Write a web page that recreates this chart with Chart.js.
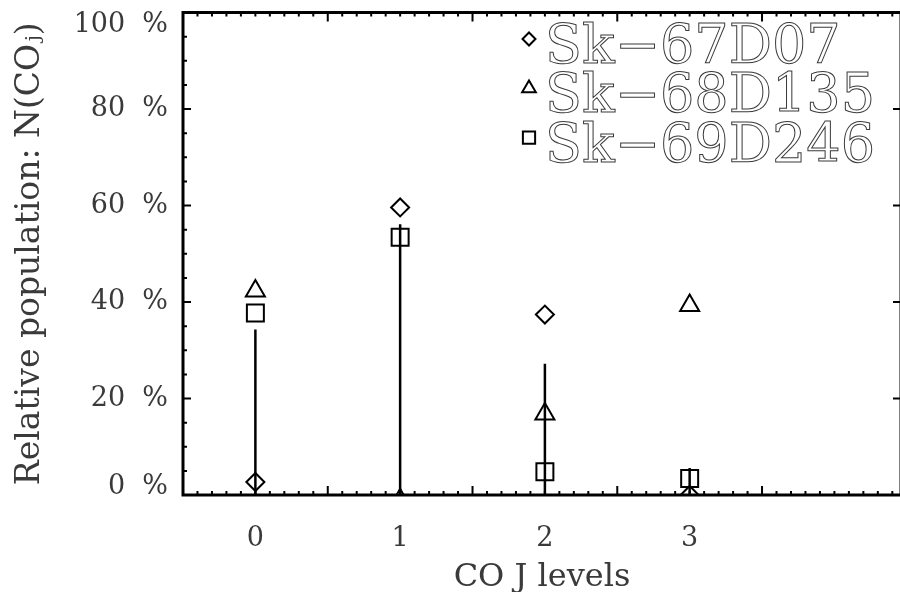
<!DOCTYPE html>
<html>
<head>
<meta charset="utf-8">
<script src="https://cdn.jsdelivr.net/npm/chart.js"></script>
<style>
    html, body { margin: 0; padding: 0; background: #fff; overflow: hidden; }
    #wrap { width: 904px; height: 592px; }
</style>
</head>
<body>
<div id="wrap"><canvas id="chart" width="904" height="592"></canvas></div>
<script>
// CO J levels and relative populations (%)
const levels = [0, 1, 2, 3];
const xLabels = ["0", "1", "2", "3"];
const sk67d07 = [2.7, 59.6, 37.4, 0];
const sk68d135 = [42.3, -1, 16.8, 39.3];
const sk69d246 = [37.7, 53.4, 4.8, 3.4];
// vertical bars drawn at each level
const barLow = [0, 0, 0, 0];
const barHigh = [34.3, 56.1, 27.2, 5.6];
const yTicks = [0, 20, 40, 60, 80, 100];
const seriesNames = ["Sk\u221267D07", "Sk\u221268D135", "Sk\u221269D246"];

const FONT = "'DejaVu Serif', serif";
const ink = "#000";
const textInk = "#3a3a3a";

const toPoints = vals => levels.map((x, i) => ({x: x, y: vals[i]}));

const markerSets = [
    {label: seriesNames[0], data: toPoints(sk67d07), pointStyle: "rectRot", pointRadius: 9},
    {label: seriesNames[1], data: toPoints(sk68d135), pointStyle: "triangle", pointRadius: 11},
    {label: seriesNames[2], data: toPoints(sk69d246), pointStyle: "rect", pointRadius: 12}
].map(d => Object.assign(d, {
    showLine: false,
    borderColor: ink,
    backgroundColor: "rgba(0,0,0,0)",
    pointBorderWidth: 2,
    pointHoverRadius: d.pointRadius,
    clip: 0
}));

const barSets = levels.map((x, i) => ({
    data: [{x: x, y: barLow[i]}, {x: x, y: barHigh[i]}],
    showLine: true,
    borderColor: ink,
    borderWidth: 2.5,
    pointRadius: 0,
    clip: 0
}));

// IDL style box: inward ticks on all four sides
const idlFrame = {
    id: "idlFrame",
    afterDatasetsDraw(chart) {
        const {ctx, chartArea: a, scales: {x, y}} = chart;
        ctx.save();
        ctx.strokeStyle = ink;
        ctx.lineWidth = 2;
        ctx.beginPath();
        for (let k = 0; ; k++) {
            const v = -0.5 + k * 0.1;
            if (v > x.max + 1e-9) break;
            const px = x.getPixelForValue(v);
            const len = k % 10 === 0 ? 9 : 4;
            ctx.moveTo(px, a.bottom);
            ctx.lineTo(px, a.bottom - len);
            ctx.moveTo(px, a.top);
            ctx.lineTo(px, a.top + len);
        }
        for (let v = 0; v <= 100; v += 5) {
            const py = y.getPixelForValue(v);
            const major = v % 20 === 0;
            ctx.moveTo(a.left, py);
            ctx.lineTo(a.left + (major ? 8 : 4), py);
            if (major) {
                ctx.moveTo(a.right, py);
                ctx.lineTo(a.right - 8, py);
            }
        }
        ctx.stroke();
        ctx.lineWidth = 3;
        ctx.strokeRect(a.left, a.top, a.right - a.left, a.bottom - a.top);
        ctx.restore();
    }
};

// legend with outlined lettering, like the vector font of the original
const idlLegend = {
    id: "idlLegend",
    afterDraw(chart) {
        const ctx = chart.ctx;
        const rows = chart.data.datasets.filter(d => d.label);
        ctx.save();
        rows.forEach((d, i) => {
            const base = 63 + i * 49.3;
            ctx.strokeStyle = ink;
            ctx.fillStyle = "rgba(0,0,0,0)";
            ctx.lineWidth = 2;
            Chart.helpers.drawPoint(ctx, {
                pointStyle: d.pointStyle,
                radius: d.pointRadius * 0.72,
                borderWidth: 2,
                rotation: 0
            }, 529, base - 24);
            ctx.font = "54px " + FONT;
            ctx.textBaseline = "alphabetic";
            ctx.textAlign = "left";
            ctx.lineWidth = 1;
            ctx.strokeStyle = textInk;
            ctx.strokeText(d.label, 545, base);
        });
        ctx.restore();
    }
};

new Chart(document.getElementById("chart"), {
    type: "scatter",
    data: {datasets: barSets.concat(markerSets)},
    options: {
        responsive: false,
        animation: false,
        events: [],
        layout: {autoPadding: false, padding: {left: 0, right: 3, top: 12.5, bottom: 0}},
        plugins: {
            legend: {display: false},
            tooltip: {enabled: false}
        },
        scales: {
            x: {
                type: "linear",
                min: -0.5,
                max: 4.46,
                grid: {display: false, drawTicks: false},
                border: {display: false},
                afterBuildTicks: s => { s.ticks = levels.map(v => ({value: v})); },
                ticks: {
                    color: textInk,
                    font: {family: FONT, size: 27},
                    padding: 28,
                    maxRotation: 0,
                    autoSkip: false,
                    callback: (v, i) => xLabels[i]
                },
                title: {
                    display: true,
                    text: "CO J levels",
                    color: textInk,
                    font: {family: FONT, size: 32},
                    padding: {top: 0, bottom: -5}
                },
                afterFit: s => { s.height = 97; s.paddingLeft = 0; s.paddingRight = 0; }
            },
            y: {
                min: 0,
                max: 100,
                grid: {display: false, drawTicks: false},
                border: {display: false},
                afterBuildTicks: s => { s.ticks = yTicks.map(v => ({value: v})); },
                ticks: {
                    color: textInk,
                    // end labels sit inside the axis span, as in the original
                    font: c => ({
                        family: FONT,
                        size: 27,
                        lineHeight: c.tick && c.tick.value === 100 ? "25px" : (c.tick && c.tick.value === 0 ? "16px" : 1.2)
                    }),
                    padding: 15,
                    callback: v => v === 100 ? ["", v + "  %"] : (v === 0 ? [v + "  %", ""] : v + "  %")
                },
                title: {
                    display: true,
                    text: "Relative population: N(CO\u2C7C)",
                    color: textInk,
                    font: {family: FONT, size: 33},
                    padding: {top: 11, bottom: 0}
                },
                afterFit: s => { s.width = 183; s.paddingTop = 0; s.paddingBottom = 0; }
            }
        }
    },
    plugins: [idlFrame, idlLegend]
});
</script>
</body>
</html>
